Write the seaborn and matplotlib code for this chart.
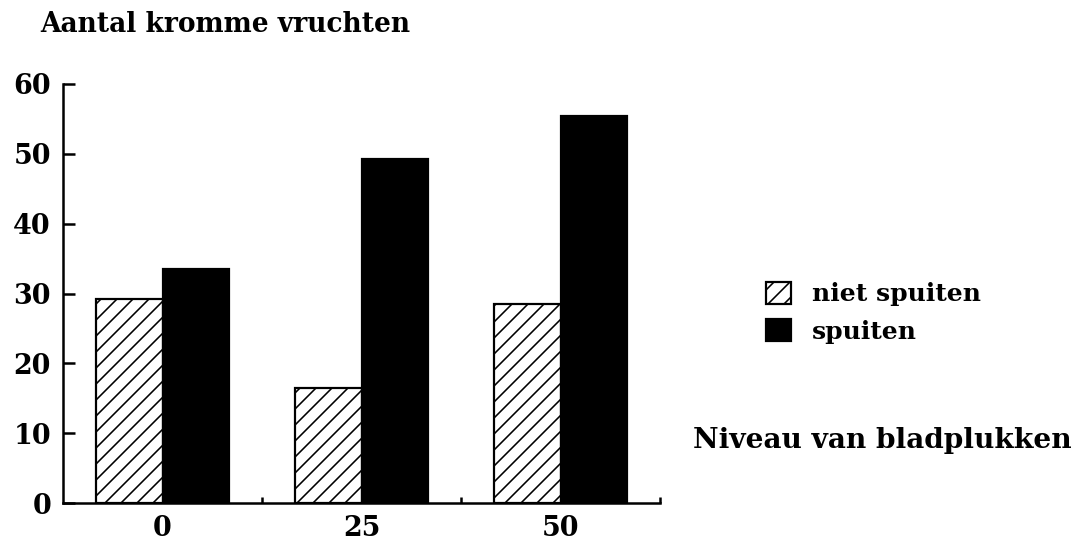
import pandas as pd
import matplotlib
matplotlib.use('Agg')
import matplotlib.pyplot as plt
import seaborn as sns

# data
niveaus = ['0', '25', '50']
niet_spuiten = [29.2, 16.4, 28.5]
spuiten = [33.5, 49.2, 55.4]
behandelingen = ['niet spuiten', 'spuiten']

df = pd.DataFrame({
    'niveau': niveaus * 2,
    'aantal': niet_spuiten + spuiten,
    'behandeling': [behandelingen[0]] * 3 + [behandelingen[1]] * 3,
})

DPI = 96
W, H = 1077, 552
pt = 72 / DPI  # pixels -> points

sns.set_theme(style='ticks')
plt.rcParams['font.family'] = ['DejaVu Serif']
plt.rcParams['font.weight'] = 'bold'
plt.rcParams['hatch.linewidth'] = 1.6 * pt
for k in ['text.color', 'axes.labelcolor', 'axes.edgecolor',
          'xtick.color', 'ytick.color']:
    plt.rcParams[k] = 'black'

fig = plt.figure(figsize=(W / DPI, H / DPI), dpi=DPI)
ax = fig.add_axes([63 / W, 49 / H, 597 / W, 419 / H])

sns.barplot(data=df, x='niveau', y='aantal', hue='behandeling',
            order=niveaus, hue_order=behandelingen,
            palette=['white', 'black'], edgecolor='black', linewidth=2.2 * pt,
            width=0.67, saturation=1, ax=ax, legend=False)

for bar in ax.containers[0]:
    bar.set_hatch('//')

ax.set_xlim(-0.5, 2.5)
ax.set_ylim(0, 60)
ax.set_yticks([0, 10, 20, 30, 40, 50, 60])
ax.set_xlabel('')
ax.set_ylabel('')
sns.despine(ax=ax)
for s in ['left', 'bottom']:
    ax.spines[s].set_linewidth(2.5 * pt)

ax.tick_params(axis='y', direction='in', length=12 * pt, width=2.5 * pt,
               pad=12 * pt, labelsize=27 * pt)
ax.tick_params(axis='x', which='major', length=0, pad=12 * pt, labelsize=27 * pt)
ax.set_xticks([0.5, 1.5, 2.5], minor=True)
ax.tick_params(axis='x', which='minor', direction='in', length=6 * pt, width=2.5 * pt)
for lab in ax.get_xticklabels() + ax.get_yticklabels():
    lab.set_fontweight('bold')

fig.text(40 / W, 1 - 32 / H, 'Aantal kromme vruchten',
         fontsize=26.5 * pt, fontweight='bold', va='baseline', ha='left')
fig.text(693 / W, 1 - 440 / H, 'Niveau van bladplukken',
         fontsize=28 * pt, fontweight='bold', va='center', ha='left')

handles = [ax.containers[0][0], ax.containers[1][0]]
fig.legend(handles, behandelingen, loc='upper left',
           bbox_to_anchor=(753 / W, 1 - 269 / H), frameon=False,
           handlelength=1.0, handleheight=1.0,
           handletextpad=0.85, labelspacing=0.5, borderpad=0,
           prop={'weight': 'bold', 'size': 25 * pt})

fig.savefig('out.png', dpi=DPI)
